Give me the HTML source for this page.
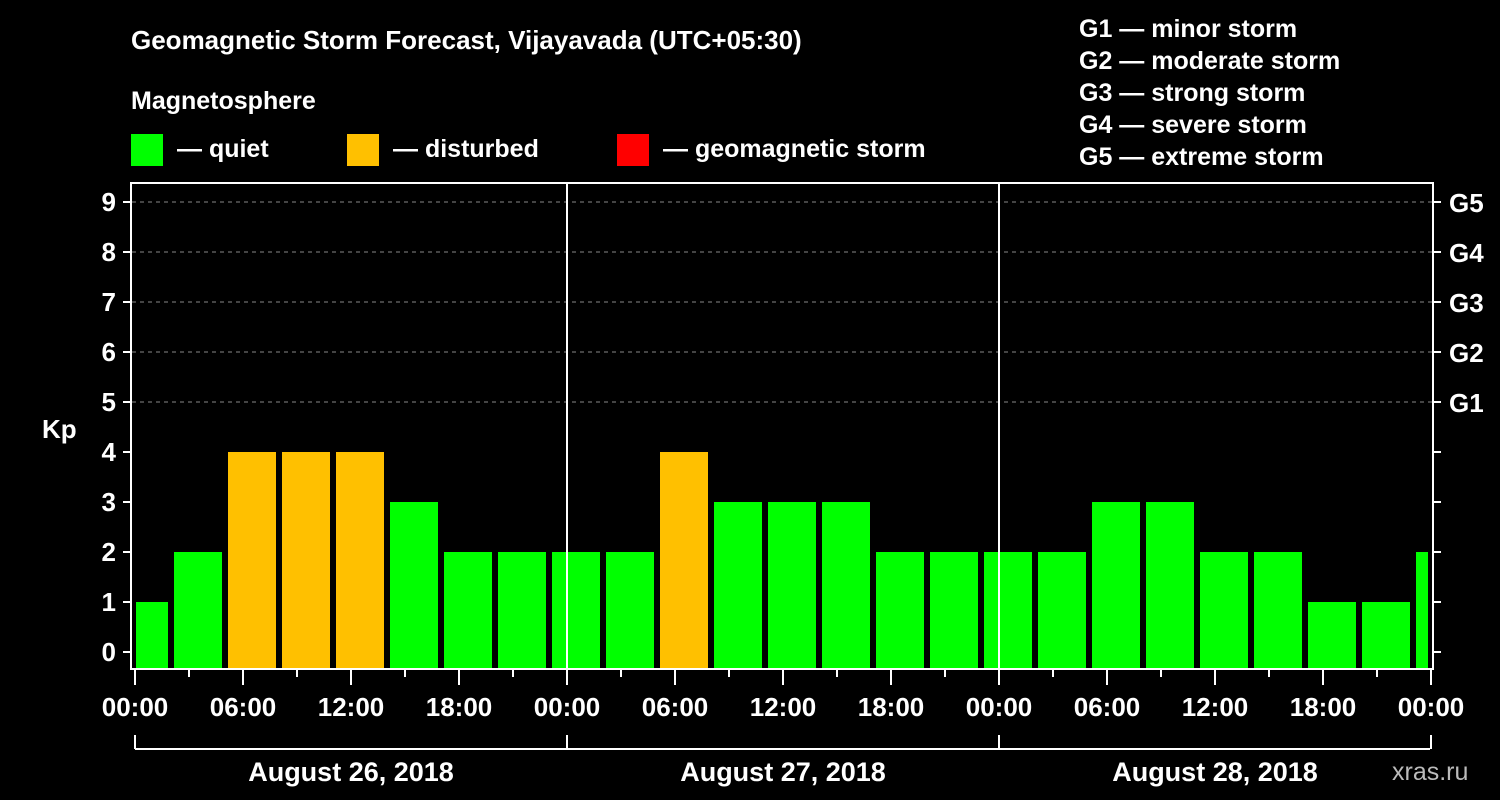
<!DOCTYPE html>
<html><head><meta charset="utf-8"><style>
html,body{margin:0;padding:0;background:#000;}
svg{display:block;font-family:"Liberation Sans",Arial,sans-serif;font-weight:bold;}
</style></head><body>
<svg id="chart" width="1500" height="800" viewBox="0 0 1500 800">
<rect width="1500" height="800" fill="#000"/>
<text x="131" y="49" fill="#fff" font-size="26">Geomagnetic Storm Forecast, Vijayavada (UTC+05:30)</text>
<text x="131" y="109" fill="#fff" font-size="25">Magnetosphere</text>
<g>
<rect x="131" y="134" width="32" height="32" fill="#00ff00"/>
<text x="177" y="157" fill="#fff" font-size="25">— quiet</text>
<rect x="347" y="134" width="32" height="32" fill="#ffc000"/>
<text x="393" y="157" fill="#fff" font-size="25">— disturbed</text>
<rect x="617" y="134" width="32" height="32" fill="#ff0000"/>
<text x="663" y="157" fill="#fff" font-size="25">— geomagnetic storm</text>
</g>
<g fill="#fff" font-size="25">
<text x="1079" y="37">G1 — minor storm</text>
<text x="1079" y="69">G2 — moderate storm</text>
<text x="1079" y="101">G3 — strong storm</text>
<text x="1079" y="133">G4 — severe storm</text>
<text x="1079" y="165">G5 — extreme storm</text>
</g>
<text x="42" y="438" fill="#fff" font-size="26">Kp</text>
<text x="1392" y="780" fill="#bbb" font-size="25" font-weight="normal">xras.ru</text>
<g id="grid"></g><g id="bars"></g><g id="axes"></g>
</svg>
<script>
const kpValues=[1,2,4,4,4,3,2,2,2,2,4,3,3,3,2,2,2,2,3,3,2,2,1,1,2];
const yTicks=[0,1,2,3,4,5,6,7,8,9];
const gLabels=["G1","G2","G3","G4","G5"];
const gLevels=[5,6,7,8,9];
const xLabels=["00:00","06:00","12:00","18:00","00:00","06:00","12:00","18:00","00:00","06:00","12:00","18:00","00:00"];
const dayLabels=["August 26, 2018","August 27, 2018","August 28, 2018"];

const NS="http://www.w3.org/2000/svg";
const X0=135,X1=1430,PXH=18,FIRST=2,SLOT=3,BOT=668;
const xh=h=>X0+h*PXH;
const yk=v=>652-50*v;
function mk(parent,tag,attrs,txt){const e=document.createElementNS(NS,tag);for(const k in attrs)e.setAttribute(k,attrs[k]);if(txt!==undefined)e.textContent=txt;document.getElementById(parent).appendChild(e);return e;}

yTicks.forEach(v=>{
  if(v>=5){const g=mk('grid','line',{x1:132,x2:1432,y1:yk(v),y2:yk(v),stroke:'#888','stroke-dasharray':'4,4','stroke-width':1});
  
  }
  const t=mk('axes','line',{x1:123,x2:131,y1:yk(v),y2:yk(v),stroke:'#fff','stroke-width':2});
  
  
  const t2=mk('axes','line',{x1:1433,x2:1441,y1:yk(v),y2:yk(v),stroke:'#fff','stroke-width':2});
  
  
  const l=mk('axes','text',{x:116,y:yk(v)+9,fill:'#fff','font-size':26,'text-anchor':'end'},v);
  
  
});
gLabels.forEach((g,i)=>{
  const l=mk('axes','text',{x:1449,y:yk(gLevels[i])+10,fill:'#fff','font-size':26},g);
  
  
});
kpValues.forEach((v,i)=>{
  let s=i===0?0:FIRST+(i-1)*SLOT, e=i===0?FIRST:FIRST+i*SLOT;
  let a=xh(s)+(i===0?1:3), b=Math.min(xh(e)-3,X1);
  if(e>72){b=X1-2;}
  const col=v>=5?'#ff0000':(v>=4?'#ffc000':'#00ff00');
  const r=mk('bars','rect',{x:a,y:yk(v),width:Math.max(b-a,1),height:BOT-yk(v),fill:col});
  
  
});
[24,48].forEach(h=>{const d=mk('axes','line',{x1:xh(h),x2:xh(h),y1:182,y2:668,stroke:'#fff','stroke-width':2});
  
  });
const fr=mk('axes','rect',{x:131,y:183,width:1302,height:486,fill:'none',stroke:'#fff','stroke-width':2});


for(let h=0;h<=72;h+=3){
  const major=h%6===0;
  const t=mk('axes','line',{x1:xh(h),x2:xh(h),y1:669,y2:major?685:677,stroke:'#fff','stroke-width':2});
  
  
}
xLabels.forEach((s,i)=>{
  const l=mk('axes','text',{x:xh(i*6),y:716,fill:'#fff','font-size':26,'text-anchor':'middle'},s);
  
  
});
const br=mk('axes','line',{x1:X0,x2:X1,y1:749,y2:749,stroke:'#fff','stroke-width':2});


[0,24,48,72].forEach(h=>{const t=mk('axes','line',{x1:xh(h),x2:xh(h),y1:735,y2:749,stroke:'#fff','stroke-width':2});
  
  });
dayLabels.forEach((d,i)=>{
  const l=mk('axes','text',{x:xh(i*24+12),y:781,fill:'#fff','font-size':27,'text-anchor':'middle'},d);
  
  
});
</script>
</body></html>
